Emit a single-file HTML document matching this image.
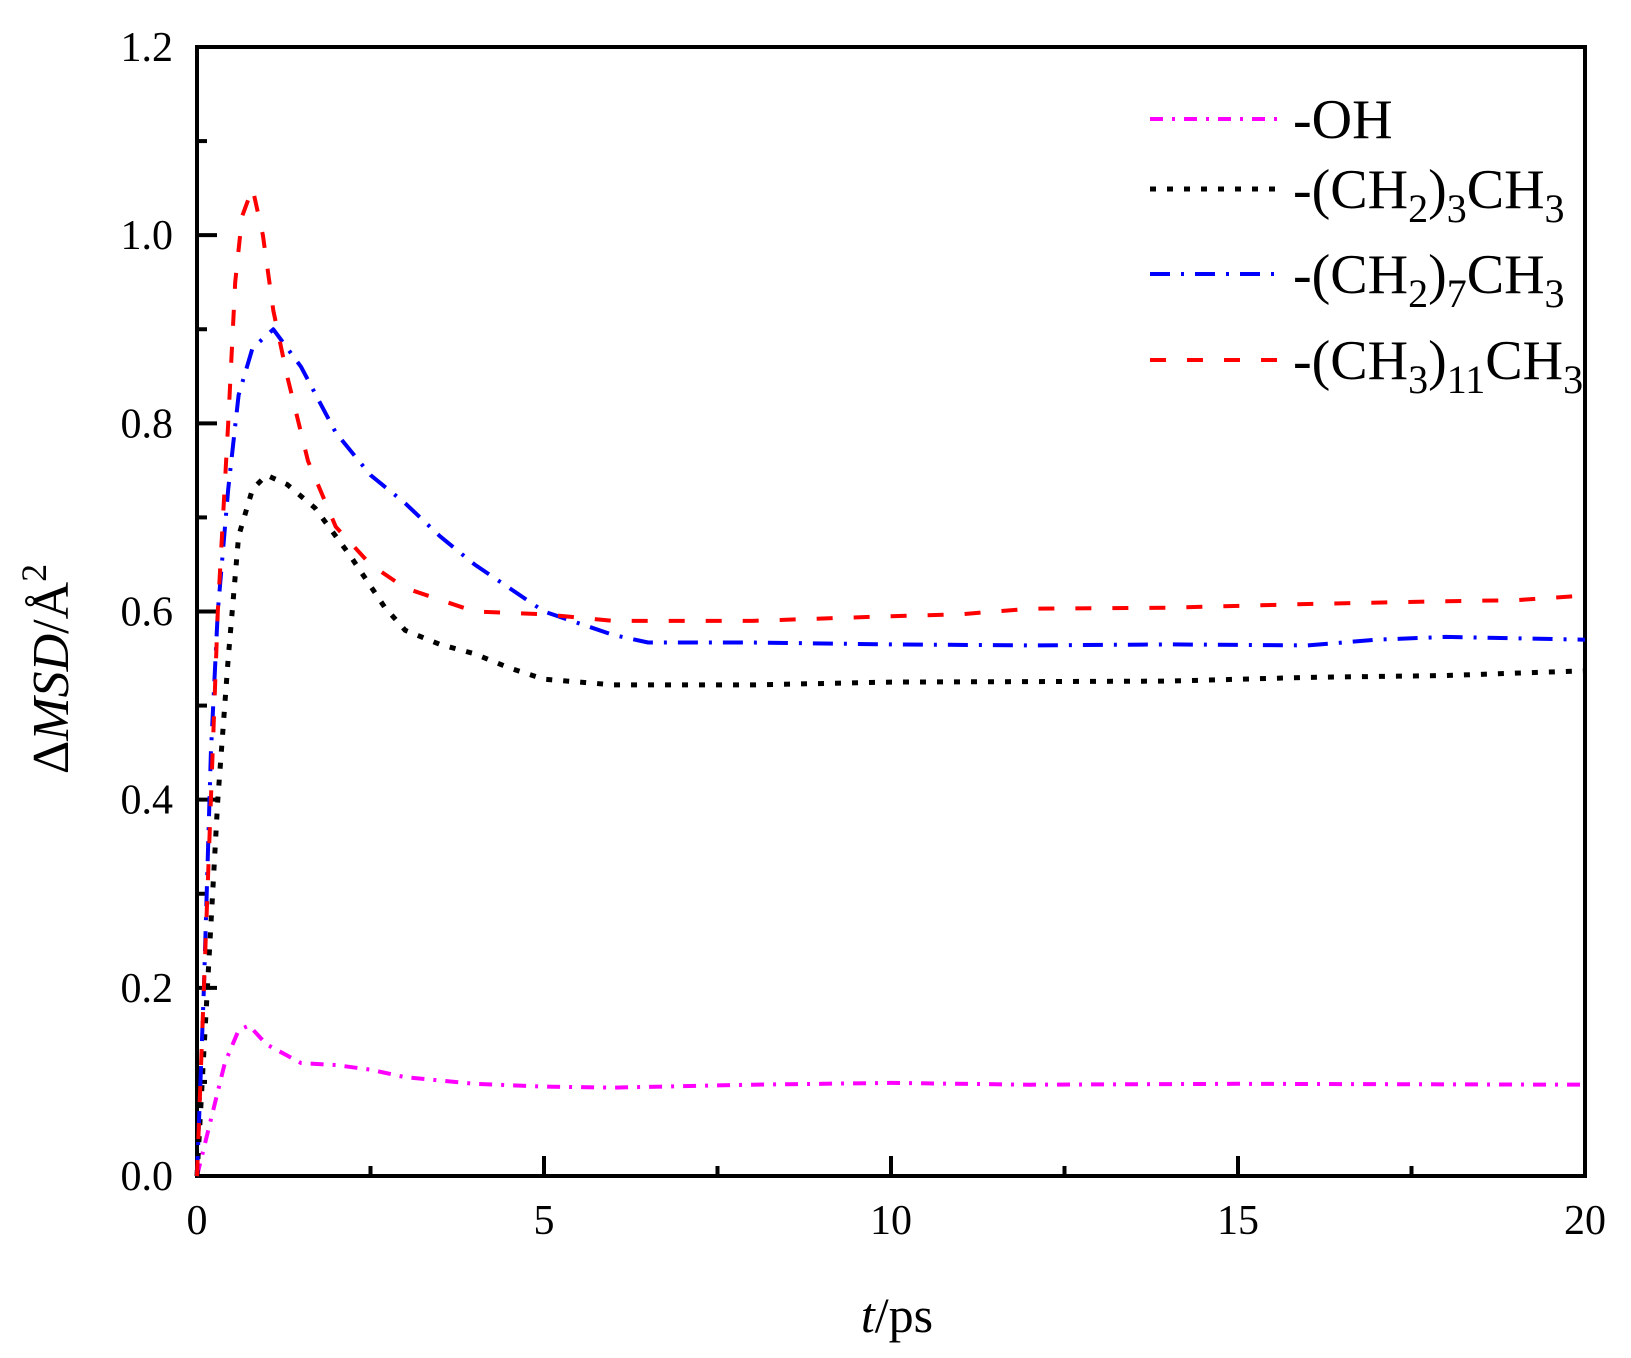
<!DOCTYPE html>
<html><head><meta charset="utf-8"><style>
html,body{margin:0;padding:0;background:#fff;}
svg{display:block;}
svg text{font-family:"Liberation Serif","Times New Roman",serif;}
</style></head><body>
<svg id="chart" width="1631" height="1358" viewBox="0 0 1631 1358" xmlns="http://www.w3.org/2000/svg" font-family="Liberation Serif, serif">
<g id="axes"></g>
<g id="series"></g>
<g id="legend">
  <line x1="1150" y1="119" x2="1277" y2="119" stroke="#ff00ff" stroke-width="4" stroke-dasharray="13 9 3 9"/>
  <text x="1293" y="138" font-size="56">-OH</text>
  <line x1="1150" y1="189" x2="1277" y2="189" stroke="#000" stroke-width="5" stroke-dasharray="6 11"/>
  <text x="1293" y="208" font-size="56">-(CH<tspan font-size="40" dy="14">2</tspan><tspan dy="-14">)</tspan><tspan font-size="40" dy="14">3</tspan><tspan dy="-14">CH</tspan><tspan font-size="40" dy="14">3</tspan></text>
  <line x1="1150" y1="274" x2="1277" y2="274" stroke="#0000ff" stroke-width="4" stroke-dasharray="20 11 3 11"/>
  <text x="1293" y="293" font-size="56">-(CH<tspan font-size="40" dy="14">2</tspan><tspan dy="-14">)</tspan><tspan font-size="40" dy="14">7</tspan><tspan dy="-14">CH</tspan><tspan font-size="40" dy="14">3</tspan></text>
  <line x1="1150" y1="360" x2="1277" y2="360" stroke="#ff0000" stroke-width="4" stroke-dasharray="16 21"/>
  <text x="1293" y="379" font-size="56">-(CH<tspan font-size="40" dy="14">3</tspan><tspan dy="-14">)</tspan><tspan font-size="40" dy="14">11</tspan><tspan dy="-14">CH</tspan><tspan font-size="40" dy="14">3</tspan></text>
</g>
<text x="897" y="1332" font-size="50" text-anchor="middle"><tspan font-style="italic">t</tspan>/ps</text>
<text transform="translate(68,669) rotate(-90)" font-size="52" text-anchor="middle">Δ<tspan font-style="italic">MSD</tspan>/Å<tspan font-size="36" dy="-22">2</tspan></text>
</svg>
<script>
const xTicks=[0,5,10,15,20];
const yTicks=[0.0,0.2,0.4,0.6,0.8,1.0,1.2];
const yTickLabels=["0.0","0.2","0.4","0.6","0.8","1.0","1.2"];
const tRed=[0,0.1,0.2,0.3,0.45,0.55,0.65,0.8,0.95,1.1,1.3,1.6,2,2.5,3,4,5,6,8,10,11,12,14,16,18,19,20];
const vRed=[0,0.2,0.4,0.6,0.8,0.95,1.02,1.05,1.0,0.92,0.85,0.76,0.69,0.65,0.625,0.6,0.597,0.59,0.59,0.595,0.597,0.603,0.604,0.608,0.611,0.612,0.617];
const tBlue=[0,0.1,0.2,0.3,0.45,0.6,0.8,1.1,1.5,2,2.5,3,3.5,4,5,6,6.5,8,10,12,14,16,17,18,20];
const vBlue=[0,0.2,0.45,0.6,0.73,0.83,0.88,0.9,0.86,0.79,0.745,0.715,0.68,0.65,0.6,0.575,0.567,0.567,0.565,0.564,0.565,0.564,0.57,0.573,0.57];
const tBlack=[0,0.15,0.3,0.45,0.6,0.8,1,1.3,1.7,2.2,2.7,3,3.5,4,4.5,5,6,8,10,14,16,18,20];
const vBlack=[0,0.2,0.4,0.55,0.68,0.73,0.745,0.735,0.71,0.66,0.605,0.58,0.565,0.555,0.54,0.528,0.522,0.522,0.525,0.526,0.53,0.532,0.537];
const tMag=[0,0.2,0.4,0.6,0.75,1,1.5,2,2.5,3,4,5,6,8,10,12,15,20];
const vMag=[0,0.06,0.12,0.155,0.16,0.14,0.12,0.118,0.113,0.105,0.098,0.095,0.094,0.097,0.099,0.097,0.098,0.097];

const L=197,R=1585,T=47,B=1176;
const X=v=>L+(v-0)/20*(R-L);
const Y=v=>B-(v-0)/1.2*(B-T);
const NS="http://www.w3.org/2000/svg";
const axes=document.getElementById('axes');
function mk(tag,attrs,parent){const e=document.createElementNS(NS,tag);for(const k in attrs)e.setAttribute(k,attrs[k]);parent.appendChild(e);return e;}
const frame=mk('rect',{x:L,y:T,width:R-L,height:B-T,fill:'none',stroke:'#000','stroke-width':4},axes);


xTicks.forEach((v,i)=>{
  const t=mk('line',{x1:X(v),x2:X(v),y1:B,y2:B-20,stroke:'#000','stroke-width':4},axes);
  
  
  if(i<xTicks.length-1){const m=mk('line',{x1:X(v+2.5),x2:X(v+2.5),y1:B,y2:B-10,stroke:'#000','stroke-width':4},axes);
  
  }
  const tx=mk('text',{x:X(v),y:B+58,'font-size':42,'text-anchor':'middle'},axes);tx.textContent=String(v);
  
  
});
yTicks.forEach((v,i)=>{
  const t=mk('line',{x1:L,x2:L+20,y1:Y(v),y2:Y(v),stroke:'#000','stroke-width':4},axes);
  
  
  if(i<yTicks.length-1){const m=mk('line',{x1:L,x2:L+10,y1:Y(v+0.1),y2:Y(v+0.1),stroke:'#000','stroke-width':4},axes);
  
  }
  const tx=mk('text',{x:L-24,y:Y(v)+14,'font-size':42,'text-anchor':'end'},axes);tx.textContent=yTickLabels[i];
  
  
});
const sg=document.getElementById('series');
function line(ts,vs,color,dash,w,name){
  const d=ts.map((t,i)=>(i?'L':'M')+X(t).toFixed(1)+' '+Y(vs[i]).toFixed(1)).join(' ');
  const p=mk('path',{d:d,fill:'none',stroke:color,'stroke-width':w,'stroke-dasharray':dash,'stroke-linejoin':'round'},sg);
  
  
}
line(tMag,vMag,'#ff00ff','13 9 3 9',4,'series-oh');
line(tBlack,vBlack,'#000','6 11',5,'series-c4');
line(tBlue,vBlue,'#0000ff','20 11 3 11',4,'series-c8');
line(tRed,vRed,'#ff0000','16 21',4,'series-c12');
</script>
</body></html>
